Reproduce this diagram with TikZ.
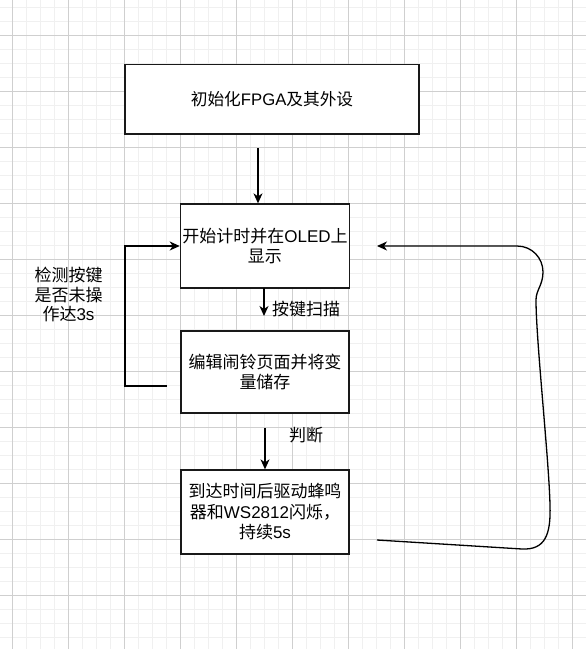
\documentclass[tikz,border=0pt]{standalone}
\usepackage{fontspec}
\setmainfont{Liberation Sans}
\newfontfamily\cjk{Noto Sans CJK SC}
\usetikzlibrary{arrows.meta}
\begin{document}
\begin{tikzpicture}[x=1pt,y=-1pt,
  minorline/.style={draw=black!6, line width=1pt},
  majorline/.style={draw=black!19, line width=1pt},
  box/.style={draw=black!90, line width=1.3pt, fill=white, minimum width=168pt, align=center, inner sep=2pt,
    font=\fontsize{17}{20.5}\selectfont},
  lbl/.style={align=center, inner sep=0pt, font=\fontsize{17}{19.5}\selectfont},
  conn/.style={draw=black, line width=1.3pt, -{Stealth[length=10pt,width=9pt,inset=3pt]}},
  plain/.style={draw=black, line width=1.3pt}]
\useasboundingbox (0,0) rectangle (586,649);
\fill[white] (0,0) rectangle (586,649);
\foreach \x in {-2,12,...,590} \draw[minorline] (\x,0) -- (\x,649);
\foreach \y in {7,21,...,652} \draw[minorline] (0,\y) -- (586,\y);
\foreach \x in {12,68,...,590} \draw[majorline] (\x,0) -- (\x,649);
\foreach \y in {35,91,...,652} \draw[majorline] (0,\y) -- (586,\y);

\node[box, minimum width=294pt, minimum height=69.5pt, font=\fontsize{16.7}{20}\selectfont] (b1) at (272,99.25)
  {{\cjk 初始化}FPGA{\cjk 及其外设}};
\node[box, minimum height=84pt] (b2) at (265,246)
  {{\cjk 开始计时并在}OLED{\cjk 上}\\{\cjk 显示}};
\node[box, minimum height=82pt] (b3) at (265,372)
  {{\cjk 编辑闹铃页面并将变}\\{\cjk 量储存}};
\node[box, minimum height=84pt] (b4) at (265,512)
  {{\cjk 到达时间后驱动蜂鸣}\\{\cjk 器和}WS2812{\cjk 闪烁，}\\{\cjk 持续}5s};

\node[lbl] (lab1) at (68.5,294.5) {{\cjk 检测按键}\\{\cjk 是否未操}\\{\cjk 作达}3s};
\node[lbl, anchor=west] (lab2) at (272,309.5) {{\cjk 按键扫描}};
\node[lbl] (lab3) at (306,435) {{\cjk 判断}};

\coordinate (a1) at (258,148);
\draw[conn] (a1) -- (a1 |- b2.north);
\coordinate (a2s) at (264,288);
\coordinate (a2e) at (264,316);
\draw[conn] (a2s) -- (a2e);
\coordinate (a3) at (265,428);
\draw[conn] (a3) -- (a3 |- b4.north);

\coordinate (l1) at (167,386);
\draw[conn] (l1) -- (125,386) -- (125,246) -- (b2.west);

\coordinate (r1) at (377,540);
\coordinate (r2) at (377,246);
\draw[conn] (r1) -- (522,549) .. controls (545,550) and (551,535) .. (550,505)
  .. controls (549,460) and (536,340) .. (536,300)
  .. controls (536,290) and (543,285) .. (543,272)
  .. controls (543,258) and (532,246) .. (517,246) -- (r2);
\end{tikzpicture}
\end{document}
